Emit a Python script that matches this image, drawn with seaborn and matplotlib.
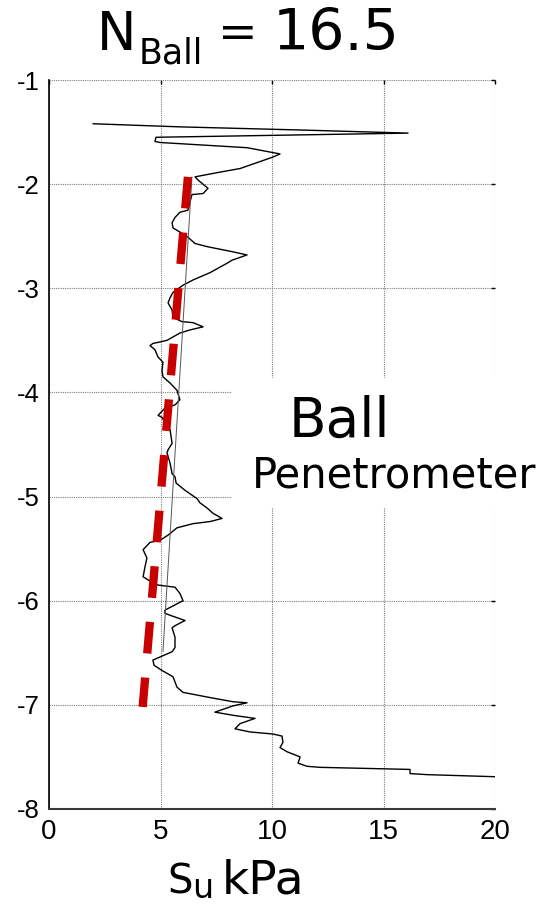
import matplotlib
matplotlib.use("Agg")
import matplotlib.pyplot as plt
from matplotlib.patches import Rectangle
import pandas as pd
import seaborn as sns

# Ball penetrometer profile: undrained shear strength (kPa) against depth (m)
su_kpa = [1.97, 5.87, 11.26, 16.10, 4.80, 4.75, 4.98, 8.88, 10.36, 10.04,
          8.57, 7.53, 6.55, 6.68, 7.13, 6.91, 6.41, 6.23, 5.87, 5.65,
          5.52, 5.56, 5.87, 6.23, 6.55, 7.09, 8.25, 8.88, 8.21, 7.98,
          7.22, 6.46, 6.01, 5.56, 5.43, 5.34, 5.52, 5.56, 5.96, 6.46,
          6.91, 6.32, 5.87, 5.29, 4.66, 4.53, 4.75, 4.89, 5.11, 5.07,
          5.11, 5.43, 5.74, 5.87, 5.65, 5.20, 4.89, 5.07, 5.20, 5.43,
          5.52, 5.34, 5.29, 5.43, 5.52, 5.65, 5.70, 6.10, 6.64, 6.77,
          7.09, 7.35, 7.76, 7.22, 6.46, 5.74, 5.34, 4.98, 4.53, 4.22,
          4.39, 4.30, 4.22, 4.44, 4.89, 5.65, 5.87, 6.01, 5.65, 5.20,
          5.20, 5.43, 6.10, 5.65, 5.52, 5.65, 5.65, 5.52, 4.98, 4.66,
          4.71, 5.07, 5.56, 5.74, 6.01, 7.22, 8.25, 8.88, 8.25, 7.44,
          8.25, 9.24, 8.57, 8.34, 9.01, 10.04, 10.45, 10.49, 10.36, 10.67,
          11.26, 11.17, 11.57, 12.15, 16.19, 16.19, 16.95, 20.00]
depth_m = [-1.42, -1.45, -1.48, -1.51, -1.55, -1.59, -1.60, -1.65, -1.71, -1.74,
           -1.85, -1.89, -1.93, -1.96, -2.04, -2.09, -2.10, -2.25, -2.27, -2.32,
           -2.37, -2.42, -2.46, -2.51, -2.57, -2.60, -2.65, -2.68, -2.73, -2.76,
           -2.85, -2.92, -2.97, -3.04, -3.09, -3.14, -3.21, -3.28, -3.32, -3.33,
           -3.37, -3.40, -3.43, -3.50, -3.53, -3.55, -3.59, -3.66, -3.71, -3.79,
           -3.85, -3.91, -3.98, -4.07, -4.12, -4.15, -4.22, -4.24, -4.29, -4.36,
           -4.49, -4.55, -4.58, -4.68, -4.78, -4.81, -4.87, -4.94, -5.02, -5.06,
           -5.11, -5.16, -5.21, -5.24, -5.26, -5.30, -5.37, -5.42, -5.44, -5.51,
           -5.59, -5.68, -5.77, -5.80, -5.85, -5.87, -5.93, -6.00, -6.04, -6.09,
           -6.12, -6.14, -6.19, -6.24, -6.26, -6.35, -6.45, -6.49, -6.54, -6.57,
           -6.62, -6.67, -6.73, -6.83, -6.88, -6.93, -6.97, -6.98, -7.01, -7.07,
           -7.10, -7.13, -7.18, -7.23, -7.26, -7.28, -7.30, -7.36, -7.41, -7.45,
           -7.50, -7.56, -7.59, -7.60, -7.62, -7.66, -7.67, -7.69]

# Thin trend line through the profile
trend_su = [6.41, 5.11]
trend_depth = [-1.93, -6.49]

# Design strength line (dashed red)
design_su = [6.23, 4.20]
design_depth = [-1.93, -7.02]

x_ticks = [0, 5, 10, 15, 20]
y_ticks = [-8, -7, -6, -5, -4, -3, -2, -1]
n_ball = "16.5"

sns.set_theme(style="white")
plt.rcParams["font.family"] = ["DejaVu Sans"]
plt.rcParams["axes.unicode_minus"] = False
plt.rcParams["text.color"] = "black"
plt.rcParams["axes.labelcolor"] = "black"
plt.rcParams["xtick.color"] = "black"
plt.rcParams["ytick.color"] = "black"

W, H = 545, 906
fig = plt.figure(figsize=(W / 100, H / 100), dpi=100)
ax = fig.add_axes([49 / W, 1 - 809 / H, (495 - 49) / W, (809 - 80) / H])


def fpos(x, y):
    """Pixel position (from top-left) to figure fraction."""
    return x / W, 1 - y / H


profile = pd.DataFrame({"su": su_kpa, "depth": depth_m})
sns.lineplot(data=profile, x="su", y="depth", sort=False, estimator=None,
             color="black", lw=1.0, ax=ax, zorder=3)
trend = pd.DataFrame({"su": trend_su, "depth": trend_depth})
sns.lineplot(data=trend, x="su", y="depth", sort=False, estimator=None,
             color="#555555", lw=0.7, ax=ax, zorder=3)
design = pd.DataFrame({"su": design_su, "depth": design_depth})
sns.lineplot(data=design, x="su", y="depth", sort=False, estimator=None,
             color="#c80000", lw=6.0, ax=ax, zorder=4,
             linestyle=(0, (3.8, 2.9)), dash_capstyle="butt")

ax.set_xlim(0, 20)
ax.set_ylim(-8, -1)
ax.set_xticks(x_ticks)
ax.set_yticks(y_ticks)
ax.set_xticklabels([str(v) for v in x_ticks])
ax.set_yticklabels([str(v) for v in y_ticks])
ax.set_xlabel("")
ax.set_ylabel("")
for lab in ax.get_xticklabels():
    lab.set_fontfamily("Liberation Sans")
    lab.set_fontsize(20)
    lab.set_color("black")
for lab in ax.get_yticklabels():
    lab.set_fontfamily("Liberation Sans")
    lab.set_fontsize(18.5)
    lab.set_color("black")
ax.tick_params(direction="in", length=3, width=1, color="black",
               top=True, right=True)
ax.tick_params(axis="x", pad=7.5)
ax.tick_params(axis="y", pad=6.5)
ax.set_axisbelow(True)
ax.grid(True, color="#7f7f7f", linestyle=(0, (1, 1)), lw=0.8)
for side in ("top", "right"):
    ax.spines[side].set_visible(False)
ax.spines["left"].set_color("black")
ax.spines["left"].set_linewidth(1.2)
ax.spines["bottom"].set_color("#3a3a3a")
ax.spines["bottom"].set_linewidth(1.5)

# White backing for the annotation
ax.add_patch(Rectangle((8.2, -5.11), 14.5, 1.25, facecolor="white",
                       edgecolor="none", zorder=1.5, clip_on=False))
fig.text(*fpos(289, 437), "Ball", fontsize=39.5, ha="left", va="baseline")
fig.text(*fpos(252, 487), "Penetrometer", fontsize=30, ha="left", va="baseline")

# Title N_Ball = 16.5
fig.text(*fpos(97, 50), "N", fontsize=38, ha="left", va="baseline")
fig.text(*fpos(139, 64), "Ball", fontsize=25, ha="left", va="baseline")
fig.text(*fpos(218, 47), "=", fontsize=34, ha="left", va="baseline")
fig.text(*fpos(273, 50), n_ball, fontsize=41, ha="left", va="baseline")

# Axis label S_u kPa
fig.text(*fpos(167, 894), "S", fontsize=29, ha="left", va="baseline")
fig.text(*fpos(192, 898), "u", fontsize=24, ha="left", va="baseline")
fig.text(*fpos(222, 894), "kPa", fontsize=34, ha="left", va="baseline")

fig.savefig("out.png", dpi=100)
